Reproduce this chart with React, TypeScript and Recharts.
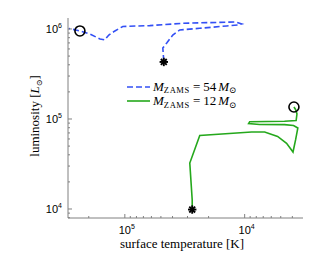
import React from "react";
import { ComposedChart, Line, Scatter, XAxis, YAxis, Legend, Label } from "recharts";

// HR diagram tracks (T in K, L in L_sun), in evolutionary order
const tempHeavy = [47300, 48200, 44700, 39800, 34800, 23700, 14130, 11430, 10590, 11890, 32860, 61940, 104000, 121000, 136000, 147000, 161000, 196000, 237000, 293000];
const lumHeavy = [441000, 615000, 698000, 857000, 975000, 1018000, 1080000, 1107000, 1138000, 1196000, 1157000, 1089000, 1067000, 951000, 857000, 755000, 774000, 879000, 951000, 1014000];

const tempLight = [27400, 27400, 28700, 23700, 8750, 6810, 5310, 4470, 3950, 3760, 3600, 3910, 4650, 7500, 9270, 9080, 4650, 3720, 3660, 3760, 3880];
const lumLight = [9860, 12590, 32430, 65610, 71780, 71780, 63970, 53700, 42950, 58480, 79430, 84720, 86500, 86900, 89130, 93330, 94190, 96160, 113800, 127600, 135800];

// ZAMS (asterisk) and final (circle) positions
const startTemp = [47300, 27400];
const startLum = [430000, 9860];
const endTemp = [237000, 3880];
const endLum = [951000, 135800];

const tempTicks = [4000, 5000, 6000, 7000, 8000, 9000, 10000, 20000, 30000, 40000, 50000, 60000, 70000, 80000, 90000, 100000, 200000];
const lumTicks = [8000, 9000, 10000, 20000, 30000, 40000, 50000, 60000, 70000, 80000, 90000, 100000, 200000, 300000, 400000, 500000, 600000, 700000, 800000, 900000, 1000000];

const heavy = tempHeavy.map((T, i) => ({ T, L: lumHeavy[i] }));
const light = tempLight.map((T, i) => ({ T, L: lumLight[i] }));
const starts = startTemp.map((T, i) => ({ T, L: startLum[i] }));
const ends = endTemp.map((T, i) => ({ T, L: endLum[i] }));

const BLUE = "#3350f5";
const GREEN = "#25a81c";
const AXIS = "#808080";
const SERIF = "'Liberation Serif', 'DejaVu Serif', serif";
const SANS = "'Liberation Sans', Arial, sans-serif";

const isDecade = (v: number) => Math.abs(Math.log10(v) - Math.round(Math.log10(v))) < 1e-6;

const XTick = (props: any) => {
  const { x, y, payload } = props;
  const v = payload.value;
  const major = isDecade(v);
  return (
    <g>
      <line x1={x} y1={y} x2={x} y2={y - (major ? 4 : 2)} stroke={AXIS} />
      {major && (
        <text x={x + 2} y={y + 16} textAnchor="middle" fontSize={11} fontFamily={SANS} fill="#000">
          10<tspan dy={-5} fontSize={7}>{Math.round(Math.log10(v))}</tspan>
        </text>
      )}
    </g>
  );
};

const YTick = (props: any) => {
  const { x, y, payload } = props;
  const v = payload.value;
  const major = isDecade(v);
  return (
    <g>
      <line x1={x} y1={y} x2={x + (major ? 4 : 2)} y2={y} stroke={AXIS} />
      {major && (
        <text x={x - 6} y={y + 4} textAnchor="end" fontSize={11} fontFamily={SANS} fill="#000">
          10<tspan dy={-5} fontSize={7}>{Math.round(Math.log10(v))}</tspan>
        </text>
      )}
    </g>
  );
};

const StarMark = (props: any) => {
  const { cx, cy } = props;
  const r = 4.2;
  return (
    <g stroke="#000" strokeWidth={1.9}>
      <line x1={cx - r} y1={cy} x2={cx + r} y2={cy} />
      <line x1={cx} y1={cy - r} x2={cx} y2={cy + r} />
      <line x1={cx - r * 0.7} y1={cy - r * 0.7} x2={cx + r * 0.7} y2={cy + r * 0.7} />
      <line x1={cx - r * 0.7} y1={cy + r * 0.7} x2={cx + r * 0.7} y2={cy - r * 0.7} />
    </g>
  );
};

const CircleMark = (props: any) => (
  <circle cx={props.cx} cy={props.cy} r={5} fill="none" stroke="#000" strokeWidth={1.6} />
);

const massLabel = (m: number) => (
  <>
    <tspan fontStyle="italic">M</tspan>
    <tspan fontSize={8.5} dy={2.5} letterSpacing={0.6}>ZAMS</tspan>
    <tspan dy={-2.5} dx={3}>=</tspan>
    <tspan dx={3}>{m}</tspan>
    <tspan fontStyle="italic" dx={2}>M</tspan>
    <tspan fontSize={8.5} dy={2.5}>⊙</tspan>
  </>
);

const LegendBox = () => (
  <svg width={130} height={32} style={{ display: "block" }}>
    <line x1={2} y1={9} x2={25} y2={9} stroke={BLUE} strokeWidth={1.6} strokeDasharray="6 3" />
    <text x={28} y={12.5} fontSize={13} fontFamily={SERIF} fill="#000">{massLabel(54)}</text>
    <line x1={2} y1={23} x2={25} y2={23} stroke={GREEN} strokeWidth={1.6} />
    <text x={28} y={27} fontSize={13} fontFamily={SERIF} fill="#000">{massLabel(12)}</text>
  </svg>
);

export default function App() {
  return (
    <div style={{ position: "fixed", left: 0, top: 0, background: "#fff" }}>
      <ComposedChart width={336} height={253} margin={{ top: 18, right: 33, bottom: 0, left: 8 }}>
        <XAxis
          dataKey="T"
          type="number"
          scale="log"
          domain={[3260, 298000]}
          reversed
          allowDataOverflow
          ticks={tempTicks}
          interval={0}
          tick={<XTick />}
          tickLine={false}
          tickSize={0}
          tickMargin={0}
          height={35}
          axisLine={{ stroke: AXIS }}
        >
          <Label
            content={() => (
              <text x={182} y={248} textAnchor="middle" fontSize={13} fontFamily={SERIF} fill="#000">
                surface temperature [K]
              </text>
            )}
          />
        </XAxis>
        <YAxis
          dataKey="L"
          type="number"
          scale="log"
          domain={[7943, 1324000]}
          allowDataOverflow
          ticks={lumTicks}
          interval={0}
          tick={<YTick />}
          tickLine={false}
          tickSize={0}
          tickMargin={0}
          width={60}
          axisLine={{ stroke: AXIS }}
        >
          <Label
            content={() => (
              <text x={39} y={116} transform="rotate(-90 39 116)" textAnchor="middle" fontSize={13} fontFamily={SERIF} fill="#000">
                luminosity [<tspan fontStyle="italic">L</tspan>
                <tspan fontSize={8} dy={3}>⊙</tspan>
                <tspan dy={-3}>]</tspan>
              </text>
            )}
          />
        </YAxis>
        <Legend
          layout="vertical"
          align="center"
          verticalAlign="middle"
          content={() => <LegendBox />}
          wrapperStyle={{ left: 125, top: 78, width: 130 }}
        />
        <Line data={heavy} dataKey="L" type="linear" stroke={BLUE} strokeWidth={1.6} strokeDasharray="6 3" dot={false} isAnimationActive={false} />
        <Line data={light} dataKey="L" type="linear" stroke={GREEN} strokeWidth={1.6} dot={false} isAnimationActive={false} />
        <Scatter data={starts} dataKey="L" shape={<StarMark />} isAnimationActive={false} legendType="none" />
        <Scatter data={ends} dataKey="L" shape={<CircleMark />} isAnimationActive={false} legendType="none" />
      </ComposedChart>
    </div>
  );
}
